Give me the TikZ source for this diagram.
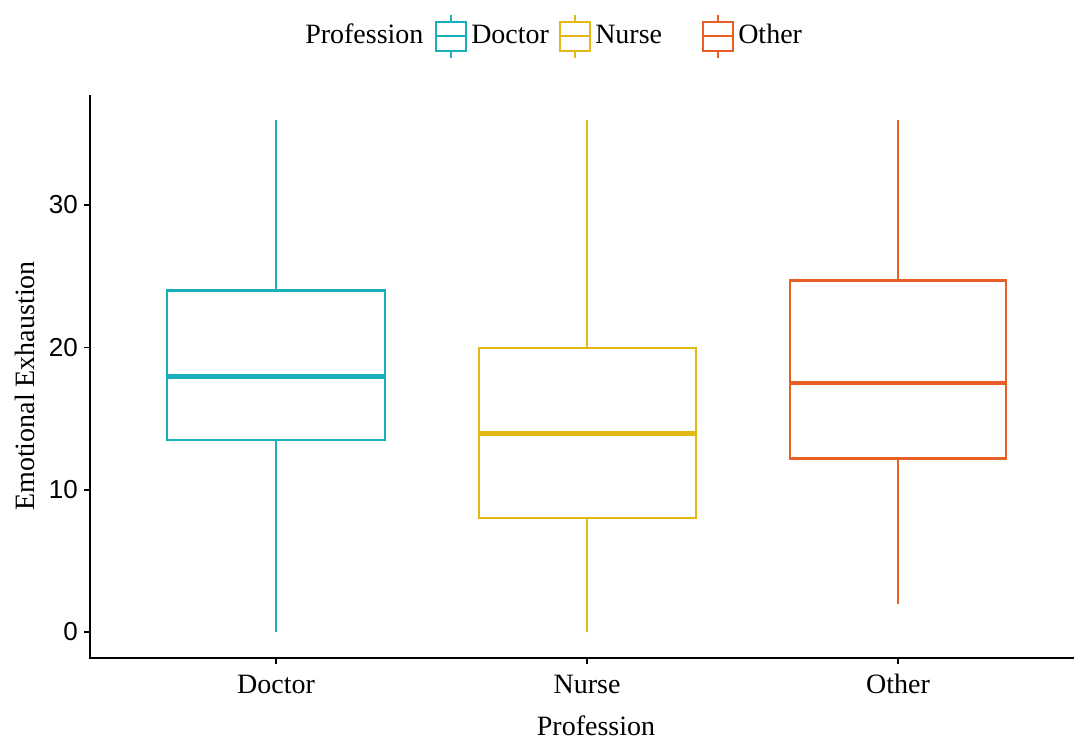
\documentclass[tikz,border=0pt]{standalone}
\usepackage{fontspec}
\setmainfont{Liberation Serif}
\newfontfamily\ticksans{Liberation Sans}
\definecolor{cdoc}{HTML}{1AB0BB}
\definecolor{cnur}{HTML}{E2B815}
\definecolor{coth}{HTML}{E85F26}
\begin{document}
\begin{tikzpicture}[x=0.75pt,y=-0.75pt,
  axis/.style={line width=1.8pt,black},
  boxline/.style={line width=1.7pt},
  medline/.style={line width=3.4pt},
  ticklab/.style={font=\ticksans\fontsize{19.5}{19.5}\selectfont,anchor=east,inner sep=0pt},
  catlab/.style={font=\fontsize{21}{21}\selectfont,inner sep=0pt},
  leglab/.style={font=\fontsize{21}{21}\selectfont,anchor=west,inner sep=0pt}]
\useasboundingbox (0,0) rectangle (1074,742);
% axes
\coordinate (ytop) at (90,95);
\coordinate (org) at (90,658);
\coordinate (xend) at (1074,658);
\draw[axis] (ytop) -- (org) -- (xend);
% y ticks: value v at y = 632 - 14.23 v
\foreach \v/\yy in {0/632,10/490,20/347.5,30/205}{
  \coordinate (yt\v) at (90,\yy);
  \draw[axis,line width=1.4pt] (yt\v) -- ++(-6,0);
  \node[ticklab] (yl\v) at (78,\yy) {\v};
}
% x ticks
\foreach \n/\xx in {Doctor/276,Nurse/587,Other/898}{
  \coordinate (xt\n) at (\xx,658);
  \draw[axis,line width=1.4pt] (xt\n) -- ++(0,6);
  \node[catlab] (xl\n) at (\xx,684) {\n};
}
\node[catlab] (xtitle) at (596,726) {Profession};
\node[catlab,rotate=90] (ytitle) at (25,386) {Emotional Exhaustion};
% boxes: color, left, right, centre, whisker low, q1, median, q3, whisker high
\foreach \c/\l/\r/\m/\wl/\qa/\md/\qb/\wh in {
  cdoc/167/385/276/632/440/376.5/290.5/120,
  cnur/479/696/587/632/518/433.5/348/120,
  coth/790/1006/898/604/458.5/383/280.5/120}{
  \draw[boxline,\c] (\m,\wl) -- (\m,\qa);
  \draw[boxline,\c] (\m,\qb) -- (\m,\wh);
  \draw[boxline,\c] (\l,\qa) rectangle (\r,\qb);
  \draw[medline,\c] (\l,\md) -- (\r,\md);
}
% legend
\node[leglab] (legt) at (305,34) {Profession};
\foreach \c/\k/\t in {cdoc/436/Doctor,cnur/560/Nurse,coth/703/Other}{
  \draw[boxline,line width=1.5pt,\c] (\k+15,15) -- (\k+15,22);
  \draw[boxline,line width=1.5pt,\c] (\k+15,51) -- (\k+15,58);
  \draw[boxline,line width=1.5pt,\c] (\k,22) rectangle (\k+30,51);
  \draw[boxline,line width=1.5pt,\c] (\k,36.5) -- (\k+30,36.5);
  \node[leglab] (leg\t) at (\k+35,34) {\t};
}
\end{tikzpicture}
\end{document}
